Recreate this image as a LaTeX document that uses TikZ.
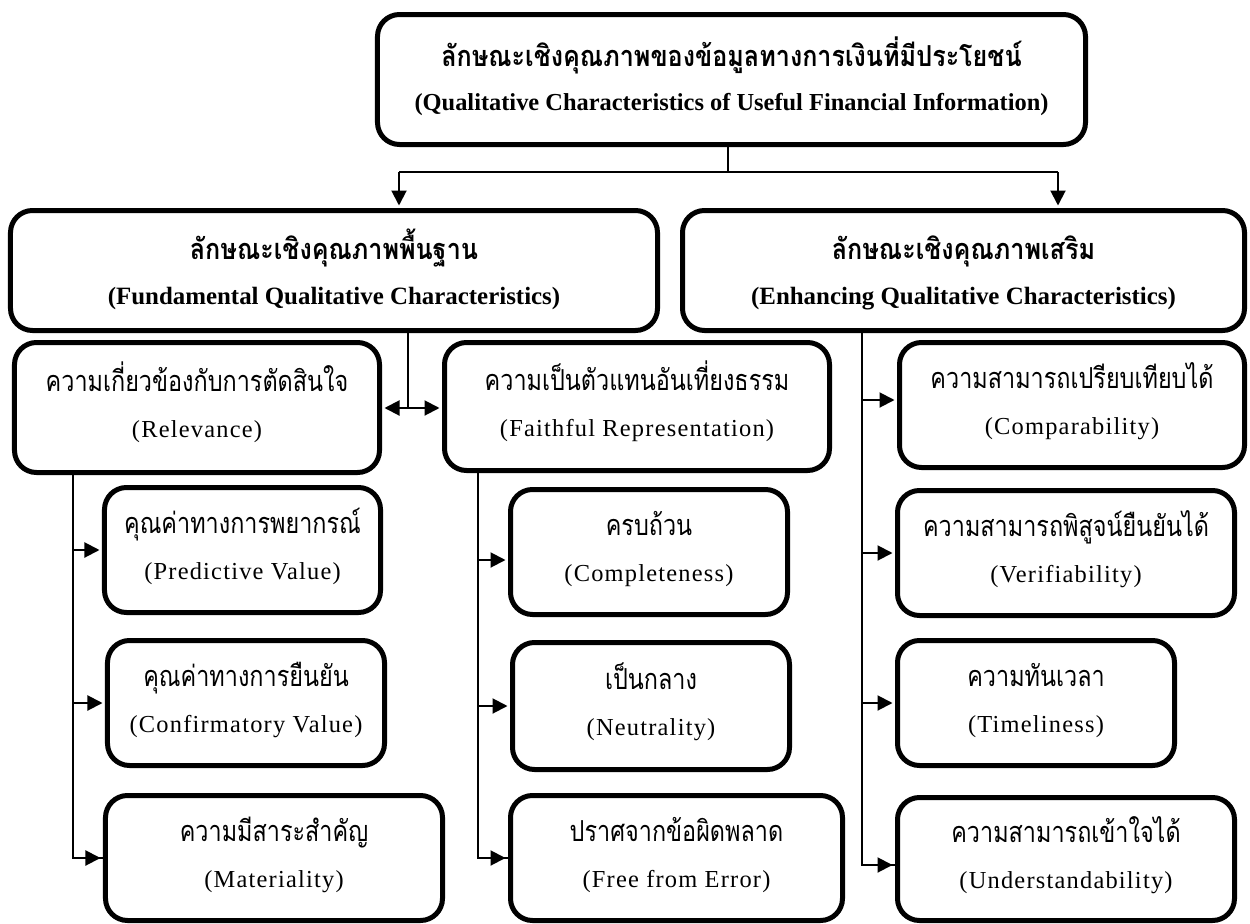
\documentclass[tikz,border=0pt]{standalone}
\usepackage{fontspec}
\setmainfont{Liberation Serif}
\newfontfamily\thaifont[Script=Thai, FakeStretch=0.81]{Loma}
\newfontfamily\thaibold[Script=Thai, FakeStretch=0.87]{Loma}
\usetikzlibrary{arrows.meta,calc}
% regular two-line label (Thai + English)
\newcommand{\TL}[2]{{\thaifont\fontsize{29}{46}\selectfont\rule[-15bp]{0pt}{43bp}#1}\\{\addfontfeature{LetterSpace=5}\rule[-15bp]{0pt}{43bp}#2}}
% bold two-line label, first-line strut height given
\newcommand{\TB}[3]{{\thaibold\bfseries\fontsize{29}{46}\selectfont\rule[-15bp]{0pt}{#1}#2}\\{\rule[-15bp]{0pt}{43bp}#3}}
\begin{document}
\begin{tikzpicture}[x=1bp,y=-1bp,
  box/.style={draw, line width=5bp, rounded corners=22bp, align=center,
    inner sep=0pt, anchor=center, font=\fontsize{24.5}{46}\selectfont},
  bbox/.style={box, font=\bfseries\fontsize{25}{46}\selectfont},
  conn/.style={line width=2bp},
  tip/.tip={Triangle[length=15bp,width=15bp]},
  arr/.style={conn, -tip, shorten >=2.5bp},
  dbl/.style={conn, tip-tip, shorten >=2.5bp, shorten <=2.5bp}]
\useasboundingbox (0,0) rectangle (1250,924);
% level 1
\node[bbox, minimum width=708bp, minimum height=130bp, font=\bfseries\fontsize{24.5}{40}\selectfont] (top) at (731.5,79.5)
  {\TB{47bp}{ลักษณะเชิงคุณภาพของข้อมูลทางการเงินที่มีประโยชน์}{(Qualitative Characteristics of Useful Financial Information)}};
% level 2
\node[bbox, minimum width=647bp, minimum height=120bp] (fund) at (334,270.5)
  {\TB{53bp}{ลักษณะเชิงคุณภาพพื้นฐาน}{(Fundamental Qualitative Characteristics)}};
\node[bbox, minimum width=562bp, minimum height=120bp] (enh) at (963.5,270.5)
  {\TB{53bp}{ลักษณะเชิงคุณภาพเสริม}{(Enhancing Qualitative Characteristics)}};
% level 3
\node[box, minimum width=365bp, minimum height=130bp] (rel) at (197,407.5)
  {\TL{ความเกี่ยวข้องกับการตัดสินใจ}{(Relevance)}};
\node[box, minimum width=385bp, minimum height=128bp] (faith) at (637,406.5)
  {\TL{ความเป็นตัวแทนอันเที่ยงธรรม}{(Faithful Representation)}};
\node[box, minimum width=345bp, minimum height=125bp] (comp) at (1072,405)
  {\TL{ความสามารถเปรียบเทียบได้}{(Comparability)}};
% relevance children
\node[box, minimum width=276bp, minimum height=125bp] (pred) at (242.5,550)
  {\TL{คุณค่าทางการพยากรณ์}{(Predictive Value)}};
\node[box, minimum width=277bp, minimum height=125bp] (conf) at (246,703)
  {\TL{คุณค่าทางการยืนยัน}{(Confirmatory Value)}};
\node[box, minimum width=337bp, minimum height=125bp] (mat) at (274,858)
  {\TL{ความมีสาระสำคัญ}{(Materiality)}};
% faithful children
\node[box, minimum width=277bp, minimum height=125bp] (compl) at (649,552)
  {\TL{ครบถ้วน}{(Completeness)}};
\node[box, minimum width=277bp, minimum height=127bp] (neut) at (651,706)
  {\TL{เป็นกลาง}{(Neutrality)}};
\node[box, minimum width=332bp, minimum height=125bp] (free) at (676.5,858)
  {\TL{ปราศจากข้อผิดพลาด}{(Free from Error)}};
% enhancing children
\node[box, minimum width=337bp, minimum height=125bp] (verif) at (1066,553)
  {\TL{ความสามารถพิสูจน์ยืนยันได้}{(Verifiability)}};
\node[box, minimum width=277bp, minimum height=125bp] (time) at (1036,703)
  {\TL{ความทันเวลา}{(Timeliness)}};
\node[box, minimum width=337bp, minimum height=123bp] (under) at (1066,859)
  {\TL{ความสามารถเข้าใจได้}{(Understandability)}};
% connectors level 1 -> 2
\coordinate (tj) at (728,172);
\coordinate (hL) at (399,172);
\coordinate (hR) at (1058,172);
\draw[conn] (tj |- top.south) -- (tj);
\draw[conn] (hL) -- (hR);
\draw[arr] (hL) -- (hL |- fund.north);
\draw[arr] (hR) -- (hR |- enh.north);
% fundamental -> relevance / faithful
\coordinate (fj) at (408,408);
\draw[conn] (fj |- fund.south) -- (fj);
\draw[dbl] (rel.east |- fj) -- (faith.west |- fj);
% relevance column
\coordinate (rv) at (73,0);
\draw[conn] (rv |- rel.south) |- (mat.west);
\draw[arr] (rv |- mat.west) -- (mat.west);
\draw[arr] (rv |- pred.west) -- (pred.west);
\draw[arr] (rv |- conf.west) -- (conf.west);
% faithful column
\coordinate (fv) at (478,0);
\coordinate (complin) at ([yshift=-8bp]compl.west);
\draw[conn] (fv |- faith.south) |- (free.west);
\draw[arr] (fv |- free.west) -- (free.west);
\draw[arr] (fv |- complin) -- (complin);
\draw[arr] (fv |- neut.west) -- (neut.west);
% enhancing column
\coordinate (ev) at (862,0);
\coordinate (underin) at ([yshift=-6bp]under.west);
\coordinate (compin) at ([yshift=5bp]comp.west);
\draw[conn] (ev |- enh.south) |- (underin);
\draw[arr] (ev |- underin) -- (underin);
\draw[arr] (ev |- compin) -- (compin);
\draw[arr] (ev |- verif.west) -- (verif.west);
\draw[arr] (ev |- time.west) -- (time.west);
\end{tikzpicture}
\end{document}
